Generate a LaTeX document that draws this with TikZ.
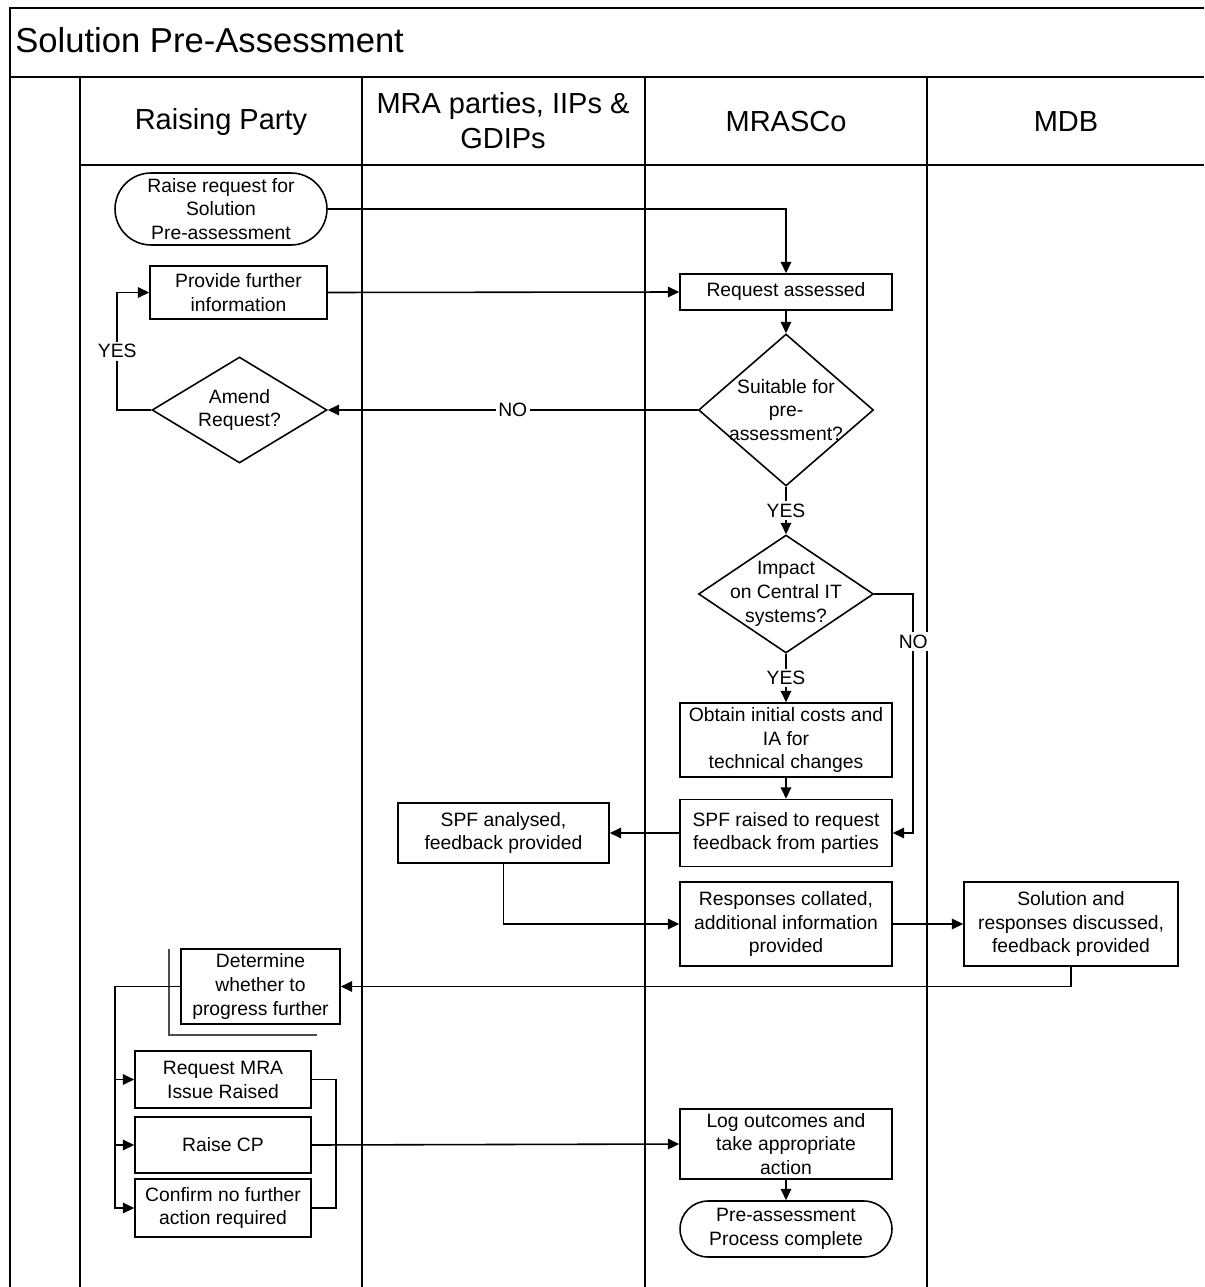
\documentclass[tikz,border=0pt]{standalone}
\usepackage{fontspec}
\setmainfont{Liberation Sans}
\usetikzlibrary{positioning,arrows.meta,shapes.geometric}

\begin{document}
\begin{tikzpicture}[x=0.02cm,y=-0.02cm,>={Triangle[length=6.5pt,width=6pt]},
  lane/.style={line width=1.2pt},
  box/.style={draw,line width=0.9pt,inner sep=0pt,align=center,font=\fontsize{11}{13.6}\selectfont},
  wide/.style={box,minimum width=4.24cm},
  dec/.style={draw,diamond,line width=0.9pt,inner sep=0pt,minimum width=3.5cm},
  flow/.style={->,line width=0.9pt},
  yn/.style={fill=white,inner sep=1.5pt,font=\fontsize{11}{13}\selectfont},
  head/.style={align=center,font=\fontsize{16.5}{20}\selectfont}]
\useasboundingbox (0,0) rectangle (1204,1287);
% swimlanes
\draw[lane] (10,1287) -- (10,8) -- (1204,8);
\draw[lane] (10,77) -- (1204,77);
\draw[lane] (80,165) -- (1204,165);
\foreach \x in {80,362,645,927} \draw[lane] (\x,77) -- (\x,1287);
\node[anchor=base west,inner sep=0pt,font=\fontsize{19.7}{24}\selectfont] (title) at (15,53) {Solution Pre-Assessment};
\node[head] (hrp) at (221,122) {Raising Party};
\node[head] (hmra) at (503,121) {MRA parties, IIPs \&\\GDIPs};
\node[head] (hsco) at (786,122) {MRASCo};
\node[head] (hmdb) at (1066,122) {MDB};
% raising party
\node[box,minimum width=4.24cm,minimum height=1.44cm,rounded corners=0.72cm] (raise) at (221,209) {Raise request for\\Solution\\Pre-assessment};
\node[box,minimum width=3.54cm,minimum height=1.06cm] (provide) at (238.5,292.5) {Provide further\\information};
\node[dec,minimum height=2.12cm,label={[align=center,font=\fontsize{11}{13.6}\selectfont]center:{Amend\\Request?}}] (amend) at (239.5,410) {};
\node[box,minimum width=3.18cm,minimum height=1.5cm] (determ) at (260.5,986.5) {Determine\\whether to\\progress further};
\node[box,minimum width=3.52cm,minimum height=1.14cm] (mra) at (223,1079.5) {Request MRA\\Issue Raised};
\node[box,minimum width=3.52cm,minimum height=1.12cm] (cp) at (223,1145) {Raise CP};
\node[box,minimum width=3.52cm,minimum height=1.16cm] (confirm) at (223,1208) {Confirm no further\\action required};
\draw[black!70,line width=1pt] (169,949) -- (169,1035) -- (317,1035);
% MRA parties
\node[box,minimum width=4.22cm,minimum height=1.2cm] (spfa) at (503.5,833) {SPF analysed,\\feedback provided};
% MRASCo
\node[wide,minimum height=0.72cm] (assess) at (786,292) {Request assessed};
\node[dec,minimum height=3.04cm,label={[align=center,font=\fontsize{11}{13.6}\selectfont]center:{Suitable for\\pre-\\assessment?}}] (suit) at (786,410) {};
\node[dec,minimum height=2.36cm,label={[align=center,font=\fontsize{11}{13.6}\selectfont]center:{Impact\\on Central IT\\systems?}}] (impact) at (786,594) {};
\node[wide,minimum height=1.48cm] (obtain) at (786,740) {Obtain initial costs and\\IA for\\technical changes};
\node[wide,minimum height=1.34cm] (spfr) at (786,833) {SPF raised to request\\feedback from parties};
\node[wide,minimum height=1.68cm] (resp) at (786,924) {Responses collated,\\additional information\\provided};
\node[wide,minimum height=1.4cm] (log) at (786,1144) {Log outcomes and\\take appropriate\\action};
\node[wide,minimum height=1.12cm,rounded corners=0.56cm] (done) at (786,1229) {Pre-assessment\\Process complete};
% MDB
\node[box,minimum width=4.28cm,minimum height=1.68cm] (soln) at (1071,924) {Solution and\\responses discussed,\\feedback provided};
% connectors
\draw[flow] (raise.east) -| (assess.north);
\draw[flow] (provide.east) -- (assess.west);
\draw[flow] (assess) -- (suit);
\draw[flow] (suit.west) -- node[yn]{NO} (amend.east);
\draw[flow] (amend.west) -- ++(-34,0) coordinate (yesbend) -- node[yn]{YES} (yesbend |- provide.west) -- (provide.west);
\draw[flow] (suit.south) -- node[yn]{YES} (impact.north);
\draw[flow] (impact.south) -- node[yn]{YES} (obtain.north);
\draw[flow] (obtain) -- (spfr);
\draw[flow] (impact.east) -- ++(39,0) coordinate (nobend) -- node[yn,pos=0.2]{NO} (nobend |- spfr.east) -- (spfr.east);
\draw[flow] (spfr.west) -- (spfa.east);
\draw[flow] (spfa.south) |- (resp.west);
\draw[flow] (resp.east) -- (soln.west);
\draw[flow] (soln.south) |- (determ.east);
\draw[flow] (determ.west) -- ++(-65,0) coordinate (split) |- (mra.west);
\draw[flow] (split) |- (cp.west);
\draw[flow] (split) |- (confirm.west);
\draw[line width=0.9pt] (mra.east) -- ++(24,0) |- (confirm.east);
\draw[flow] (cp.east) -- (log.west);
\draw[flow] (log) -- (done);
\end{tikzpicture}
\end{document}
